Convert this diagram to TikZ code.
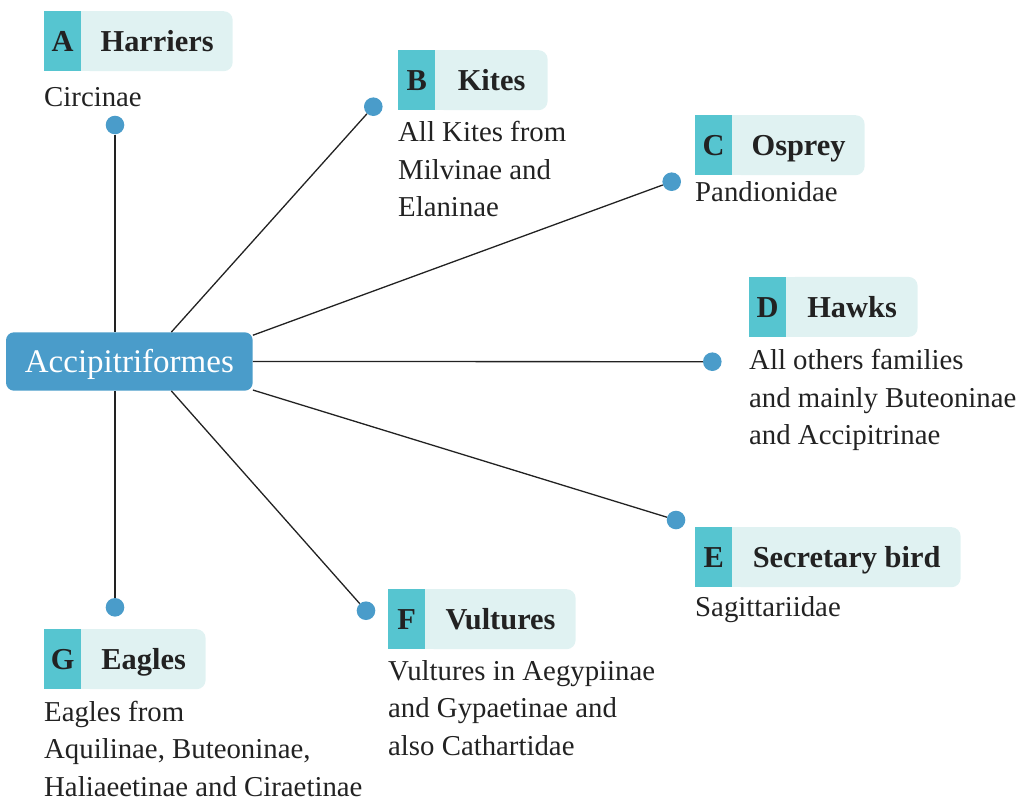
\documentclass[tikz,border=0pt]{standalone}
\usepackage{fontspec}
\setmainfont{Liberation Serif}
\definecolor{lettc}{HTML}{56C5D0}
\definecolor{titlec}{HTML}{E0F2F2}
\definecolor{hubc}{HTML}{4A9CCA}
\definecolor{inkc}{HTML}{222222}
\begin{document}
\begin{tikzpicture}[x=1pt,y=-1pt,
  letterbox/.style={fill=lettc, text=inkc, font=\fontsize{30.4}{36}\selectfont\bfseries,
    minimum width=37, minimum height=60, inner sep=0, text height=21, text depth=0, anchor=north west},
  titlebox/.style={fill=titlec, text=inkc, font=\fontsize{30.4}{36}\selectfont\bfseries,
    minimum height=60, inner xsep=19, inner ysep=0, text height=21, text depth=0,
    rounded corners=9, anchor=north west},
  desc/.style={anchor=north west, inner sep=0, align=left, text=inkc, yshift=26.25pt,
    font=\fontsize{28.8}{37.5}\selectfont},
  dot/.style={circle, fill=hubc, minimum size=18.6, inner sep=0},
  hub/.style={fill=hubc, text=white, rounded corners=8, minimum width=246.7, minimum height=58.4,
    inner sep=0, text height=22, text depth=0, font=\fontsize{33}{40}\selectfont},
  link/.style={draw=inkc, line width=1.3pt}
]
\useasboundingbox (0,0) rectangle (1023,800);

% hub
\node[hub] (hub) at (129.35,361.5) {Accipitriformes};

% A
\node[letterbox] (aL) at (44,11) {A};
\node[titlebox, minimum width=151] (aT) at (aL.north east) {Harriers};
\fill[titlec] (aT.north west) rectangle ([xshift=12pt]aT.south west);
\node[desc] (aD) at (44,106) {\strut Circinae};
\node[dot] (aP) at (115,125) {};

% B
\node[letterbox] (bL) at (398,50) {B};
\node[titlebox, minimum width=112] (bT) at (bL.north east) {Kites};
\fill[titlec] (bT.north west) rectangle ([xshift=12pt]bT.south west);
\node[desc] (bD) at (398,141.7) {\strut All Kites from\\Milvinae and\\Elaninae};
\node[dot] (bP) at (373.3,106.7) {};

% C
\node[letterbox] (cL) at (695,115) {C};
\node[titlebox, minimum width=129] (cT) at (cL.north east) {Osprey};
\fill[titlec] (cT.north west) rectangle ([xshift=12pt]cT.south west);
\node[desc] (cD) at (695,201.7) {\strut Pandionidae};
\node[dot] (cP) at (671.7,181.7) {};

% D
\node[letterbox] (dL) at (749,276.7) {D};
\node[titlebox, minimum width=131] (dT) at (dL.north east) {Hawks};
\fill[titlec] (dT.north west) rectangle ([xshift=12pt]dT.south west);
\node[desc] (dD) at (749,369.3) {\strut All others families\\and mainly Buteoninae\\and Accipitrinae};
\node[dot] (dP) at (712.3,361.7) {};

% E
\node[letterbox] (eL) at (695,527) {E};
\node[titlebox, minimum width=228] (eT) at (eL.north east) {Secretary bird};
\fill[titlec] (eT.north west) rectangle ([xshift=12pt]eT.south west);
\node[desc] (eD) at (695,616.7) {\strut Sagittariidae};
\node[dot] (eP) at (676,520) {};

% F
\node[letterbox] (fL) at (388,589) {F};
\node[titlebox, minimum width=150] (fT) at (fL.north east) {Vultures};
\fill[titlec] (fT.north west) rectangle ([xshift=12pt]fT.south west);
\node[desc] (fD) at (388,680) {\strut Vultures in Aegypiinae\\and Gypaetinae and\\also Cathartidae};
\node[dot] (fP) at (366,610.7) {};

% G
\node[letterbox] (gL) at (44,629) {G};
\node[titlebox, minimum width=124] (gT) at (gL.north east) {Eagles};
\fill[titlec] (gT.north west) rectangle ([xshift=12pt]gT.south west);
\node[desc] (gD) at (44,721.2) {\strut Eagles from\\Aquilinae, Buteoninae,\\Haliaeetinae and Ciraetinae};
\node[dot] (gP) at (115,607.3) {};

% connectors
\draw[link] (aP) -- (aP |- hub.north);
\draw[link] (hub.35) -- (bP);
\draw[link] (hub.12) -- (cP);
\draw[link] (hub.east) -- (dP);
\draw[link] (hub.-13) -- (eP);
\draw[link] (hub.-35) -- (fP);
\draw[link] (gP) -- (gP |- hub.south);
\end{tikzpicture}
\end{document}
